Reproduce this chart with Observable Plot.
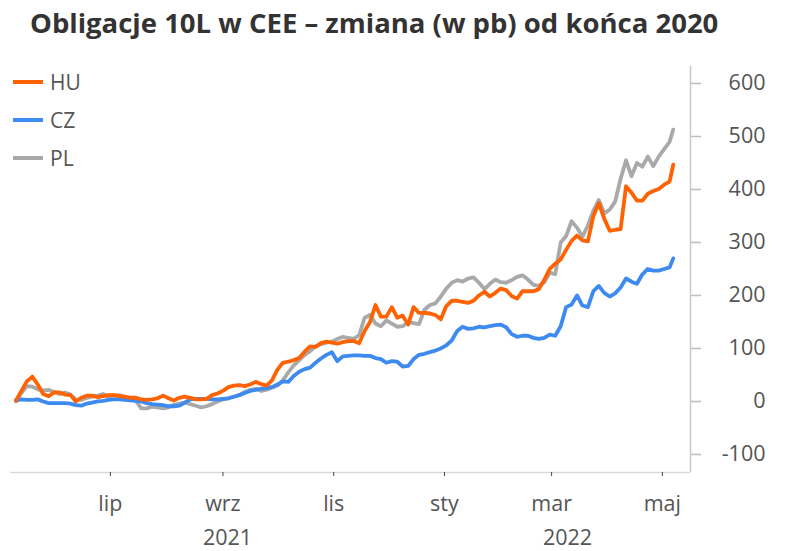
<!DOCTYPE html>
<html><head><meta charset="utf-8">
<script src="https://cdn.jsdelivr.net/npm/d3@7"></script>
<script src="https://cdn.jsdelivr.net/npm/@observablehq/plot@0.6"></script>
<style>
body{margin:0;background:#fff;}
#wrap{position:relative;width:800px;height:551px;font-family:"Open Sans",sans-serif;}
#title{margin:0;height:48px;padding-left:30px;font-size:27.5px;font-weight:700;color:#333;line-height:46px;white-space:nowrap;}
#legend{position:absolute;left:13px;top:63px;}
.item{display:flex;align-items:center;height:38px;font-size:21px;color:#555;}
.sw{width:30px;height:4px;margin-right:7px;}
</style></head>
<body><div id="wrap"><div id="title">Obligacje 10L w CEE – zmiana (w pb) od końca 2020</div><div id="chart"></div><div id="legend"></div></div>
<script>
const dates = ["2021-05-10","2021-05-13","2021-05-16","2021-05-19","2021-05-22","2021-05-25","2021-05-28","2021-05-31",
"2021-06-03","2021-06-06","2021-06-09","2021-06-12","2021-06-15","2021-06-18","2021-06-21","2021-06-24","2021-06-27","2021-06-30",
"2021-07-03","2021-07-06","2021-07-09","2021-07-12","2021-07-15","2021-07-18","2021-07-21","2021-07-24","2021-07-27","2021-07-30",
"2021-08-02","2021-08-05","2021-08-08","2021-08-11","2021-08-14","2021-08-17","2021-08-20","2021-08-23","2021-08-26","2021-08-29",
"2021-09-01","2021-09-04","2021-09-07","2021-09-10","2021-09-13","2021-09-16","2021-09-19","2021-09-22","2021-09-25","2021-09-28",
"2021-10-01","2021-10-04","2021-10-07","2021-10-10","2021-10-13","2021-10-16","2021-10-19","2021-10-22","2021-10-25","2021-10-28","2021-10-31",
"2021-11-03","2021-11-06","2021-11-09","2021-11-12","2021-11-15","2021-11-18","2021-11-21","2021-11-24","2021-11-27","2021-11-30",
"2021-12-03","2021-12-06","2021-12-09","2021-12-12","2021-12-15","2021-12-18","2021-12-21","2021-12-24","2021-12-27","2021-12-30",
"2022-01-02","2022-01-05","2022-01-08","2022-01-11","2022-01-14","2022-01-17","2022-01-20","2022-01-23","2022-01-26","2022-01-29",
"2022-02-01","2022-02-04","2022-02-07","2022-02-10","2022-02-13","2022-02-16","2022-02-19","2022-02-22","2022-02-25","2022-02-28",
"2022-03-03","2022-03-06","2022-03-09","2022-03-12","2022-03-15","2022-03-18","2022-03-21","2022-03-24","2022-03-27","2022-03-30",
"2022-04-02","2022-04-05","2022-04-08","2022-04-11","2022-04-14","2022-04-17","2022-04-20","2022-04-23","2022-04-26","2022-04-29",
"2022-05-02","2022-05-05","2022-05-07"];

const hu = [2,20,38,47,32,14,10,17,17,13,12,0,7,11,11,8,10,12,12,10,9,7,7,4,3,4,6,11,6,2,7,9,7,4,4,5,12,15,20,27,30,31,29,32,37,33,30,40,
60,73,75,78,82,94,104,103,110,113,111,109,112,114,114,110,133,150,182,160,160,178,158,162,145,178,167,167,166,163,155,
180,190,190,188,186,190,200,207,198,205,213,210,199,194,208,208,208,212,230,250,260,268,286,303,313,304,302,350,374,345,
322,324,325,406,394,379,379,392,397,401,409,415,447];

const cz = [2,4,3,3,4,0,-3,-3,-3,-3,-4,-7,-8,-4,-2,0,1,3,4,4,3,2,1,0,-3,-5,-6,-7,-9,-9,-8,-2,4,5,5,5,4,4,5,6,9,12,16,20,22,24,25,27,
32,38,37,48,56,61,64,73,81,88,93,76,85,86,87,87,86,86,82,80,73,76,75,66,67,80,88,90,93,96,100,
106,115,133,141,137,138,141,140,142,144,145,140,127,122,124,124,120,118,120,126,124,142,178,183,200,181,178,208,218,205,
198,204,215,232,226,222,240,250,247,247,250,253,270];

const pl = [0,16,29,28,23,21,22,18,14,17,13,4,3,7,9,11,14,9,11,12,8,6,2,-13,-13,-10,-11,-13,-11,-6,-4,-2,-5,-8,-11,-9,-5,0,4,6,9,12,18,22,24,20,22,26,
30,40,55,68,78,88,95,104,108,111,113,118,122,120,118,125,158,163,147,142,153,147,141,142,150,148,146,173,182,185,198,
213,224,229,226,232,234,224,212,222,230,225,224,229,235,238,230,220,218,225,243,240,300,312,340,328,311,332,360,380,355,
362,377,420,455,425,450,443,462,444,462,476,490,513];

const seriesNames = ["HU", "CZ", "PL"];
const seriesColors = ["#FF6200", "#3D8AF0", "#A9A9A9"];
const yTicks = [-100, 0, 100, 200, 300, 400, 500, 600];
const xTicks = ["2021-07-01","2021-09-01","2021-11-01","2022-01-01","2022-03-01","2022-05-01"];
const monthsPL = ["sty","lut","mar","kwi","maj","cze","lip","sie","wrz","paź","lis","gru"];
const xDomain = ["2021-05-07", "2022-05-16T12:00Z"];
const yDomain = [-134, 632];

const valuesBySeries = {HU: hu, CZ: cz, PL: pl};
const rows = name => dates.map((d, i) => ({date: new Date(d), value: valuesBySeries[name][i], series: name}));
const xd = xDomain.map(d => new Date(d));
const years = [
  {label: "2021", mid: new Date((xd[0].getTime() + new Date("2022-01-01").getTime()) / 2)},
  {label: "2022", mid: new Date((new Date("2022-01-01").getTime() + xd[1].getTime()) / 2)}
];
const color = n => seriesColors[seriesNames.indexOf(n)];

const chart = Plot.plot({
  width: 800, height: 503,
  marginTop: 18, marginBottom: 79, marginLeft: 10, marginRight: 110,
  style: {fontFamily: "Open Sans, sans-serif", fontSize: "21px", color: "#555", background: "#fff"},
  x: {type: "utc", domain: xd},
  y: {domain: yDomain},
  marks: [
    Plot.ruleY([yDomain[0]], {stroke: "#d9d9d9", strokeWidth: 1.5}),
    Plot.ruleX([xd[1]], {stroke: "#c8c8c8", strokeWidth: 1.5}),
    Plot.axisY({anchor: "right", ticks: yTicks, tickFormat: d => String(d), tickSize: 10, tickPadding: 65, textAnchor: "end", stroke: "#bdbdbd", strokeWidth: 1.5, fill: "#555", fontSize: 21.5, label: null}),
    Plot.axisX({ticks: xTicks.map(d => new Date(d)), tickFormat: d => monthsPL[d.getUTCMonth()], tickSize: 4, tickPadding: 19, stroke: "#444", fill: "#555", fontSize: 21.5, label: null}),
    Plot.text(years, {x: "mid", text: "label", frameAnchor: "bottom", dy: 72, fill: "#555", fontSize: 21.5}),
    Plot.lineY(rows("PL"), {x: "date", y: "value", stroke: color("PL"), strokeWidth: 3.8}),
    Plot.lineY(rows("CZ"), {x: "date", y: "value", stroke: color("CZ"), strokeWidth: 3.8}),
    Plot.lineY(rows("HU"), {x: "date", y: "value", stroke: color("HU"), strokeWidth: 3.8})
  ]
});
document.getElementById("chart").appendChild(chart);

const legend = document.getElementById("legend");
seriesNames.forEach((n, i) => {
  const it = document.createElement("div");
  it.className = "item";
  it.innerHTML = `<span class="sw" style="background:${seriesColors[i]}"></span><span>${n}</span>`;
  legend.appendChild(it);
});
</script>
</body></html>
